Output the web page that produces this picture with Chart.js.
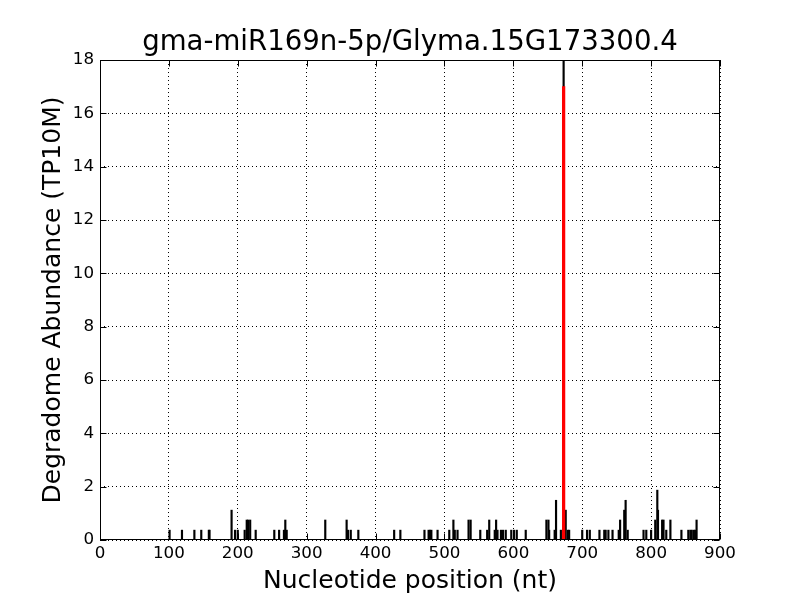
<!DOCTYPE html>
<html>
<head>
<meta charset="utf-8">
<title>gma-miR169n-5p/Glyma.15G173300.4</title>
<script src="https://cdn.jsdelivr.net/npm/chart.js@4.4.0/dist/chart.umd.min.js"></script>
<style>
  html, body { margin: 0; padding: 0; background: #fff; }
  #wrap { width: 800px; height: 600px; }
</style>
</head>
<body>
<div id="wrap"><canvas id="degradomeChart" width="800" height="600"></canvas></div>
<script>
// DEGRADOME DATA (nt position / TP10M)
const positions = [
  101, 119, 137, 147, 158, 159, 191, 196, 200, 210, 213, 215, 218, 226,
  253, 260, 267, 269, 271, 327, 358, 360, 364, 375, 427, 436,
  471, 477, 479, 481, 490, 507, 513, 515, 519, 535, 538, 552,
  562, 565, 573, 575, 577, 582, 585, 589, 597, 601, 605, 618,
  648, 651, 652, 660, 662, 669, 673, 676, 679, 681, 700, 707, 711,
  725, 732, 734, 738, 744, 753, 755, 761, 763, 766,
  789, 793, 800, 806, 809, 810, 816, 818, 822, 828, 844,
  854, 857, 859, 862, 864, 866
];
const abundance = [
  0.37, 0.37, 0.37, 0.37, 0.37, 0.37, 1.12, 0.37, 0.37, 0.37, 0.75, 0.75, 0.75, 0.37,
  0.37, 0.37, 0.37, 0.75, 0.37, 0.75, 0.75, 0.37, 0.37, 0.37, 0.37, 0.37,
  0.37, 0.37, 0.37, 0.37, 0.37, 0.37, 0.75, 0.37, 0.37, 0.75, 0.75, 0.37,
  0.37, 0.75, 0.37, 0.75, 0.37, 0.37, 0.37, 0.37, 0.37, 0.37, 0.37, 0.37,
  0.75, 0.75, 0.37, 0.37, 1.49, 0.37, 18.3, 1.12, 0.37, 0.37, 0.37, 0.37, 0.37,
  0.37, 0.37, 0.37, 0.37, 0.37, 0.37, 0.75, 1.12, 1.49, 0.37,
  0.37, 0.37, 0.37, 0.75, 1.87, 1.12, 0.75, 0.75, 0.37, 0.75, 0.37,
  0.37, 0.37, 0.37, 0.37, 0.37, 0.75
];

// CLEAVAGE SITE (red)
const cleavagePositions = [673];
const cleavageAbundance = [17];

// AXES
const xTicks = [0, 100, 200, 300, 400, 500, 600, 700, 800, 900];
const yTicks = [0, 2, 4, 6, 8, 10, 12, 14, 16, 18];

Chart.defaults.font.family = "'DejaVu Sans', sans-serif";
Chart.defaults.color = "#000";

// box round the plot and inward tick marks (matplotlib classic look)
const framePlugin = {
  id: "frame",
  afterDatasetsDraw(chart) {
    const { ctx, chartArea: a, scales: { x, y } } = chart;
    const L = Math.round(a.left) + 0.5, R = Math.round(a.right) - 0.5;
    const T = Math.round(a.top) + 0.5, B = Math.round(a.bottom) - 0.5;
    ctx.save();
    ctx.strokeStyle = "#000";
    ctx.lineWidth = 1;
    ctx.beginPath();
    xTicks.forEach(function (v) {
      const px = Math.round(x.getPixelForValue(v)) + 0.5;
      ctx.moveTo(px, B); ctx.lineTo(px, B - 6);
      ctx.moveTo(px, T); ctx.lineTo(px, T + 6);
    });
    yTicks.forEach(function (v) {
      const py = Math.round(y.getPixelForValue(v)) + 0.5;
      ctx.moveTo(L, py); ctx.lineTo(L + 6, py);
      ctx.moveTo(R, py); ctx.lineTo(R - 6, py);
    });
    ctx.stroke();
    ctx.strokeRect(L, T, R - L, B - T);
    ctx.restore();
  }
};

new Chart(document.getElementById("degradomeChart"), {
  type: "bar",
  data: {
    datasets: [
      {
        label: "cleavage",
        data: cleavagePositions.map(function (p, i) { return { x: p, y: cleavageAbundance[i] }; }),
        backgroundColor: "#ff0000",
        barThickness: 2.6,
        stack: "s",
        order: 0
      },
      {
        label: "reads",
        data: positions.map(function (p, i) { return { x: p, y: abundance[i] }; }),
        backgroundColor: "#000000",
        barThickness: 1.5,
        stack: "s",
        order: 1
      }
    ]
  },
  options: {
    responsive: false,
    animation: false,
    layout: { padding: { top: 0, right: 80, bottom: 0, left: 0 } },
    plugins: {
      legend: { display: false },
      tooltip: { enabled: false },
      title: {
        display: true,
        text: "gma-miR169n-5p/Glyma.15G173300.4",
        fullSize: false,
        font: { size: 27.6, weight: "normal" },
        color: "#000",
        padding: { top: 26, bottom: 0.9 }
      }
    },
    scales: {
      x: {
        type: "linear",
        stacked: true,
        offset: false,
        min: 0,
        max: 900,
        afterFit: function (s) { s.height = 60; },
        afterBuildTicks: function (s) { s.ticks = xTicks.map(function (v) { return { value: v }; }); },
        ticks: { autoSkip: false, padding: 4, font: { size: 16.7 }, maxRotation: 0 },
        grid: { color: "#000", lineWidth: 1, drawTicks: false, offset: false },
        border: { display: false, dash: [1, 3] },
        title: {
          display: true,
          text: "Nucleotide position (nt)",
          font: { size: 25 },
          padding: { top: 0, bottom: 4 }
        }
      },
      y: {
        stacked: false,
        min: 0,
        max: 18,
        afterFit: function (s) { s.width = 100; },
        afterBuildTicks: function (s) { s.ticks = yTicks.map(function (v) { return { value: v }; }); },
        ticks: { autoSkip: false, padding: 6, font: { size: 16.7 } },
        grid: { color: "#000", lineWidth: 1, drawTicks: false },
        border: { display: false, dash: [1, 3] },
        title: {
          display: true,
          text: "Degradome Abundance (TP10M)",
          font: { size: 25 },
          padding: { top: 38, bottom: 0 }
        }
      }
    }
  },
  plugins: [framePlugin]
});
</script>
</body>
</html>
